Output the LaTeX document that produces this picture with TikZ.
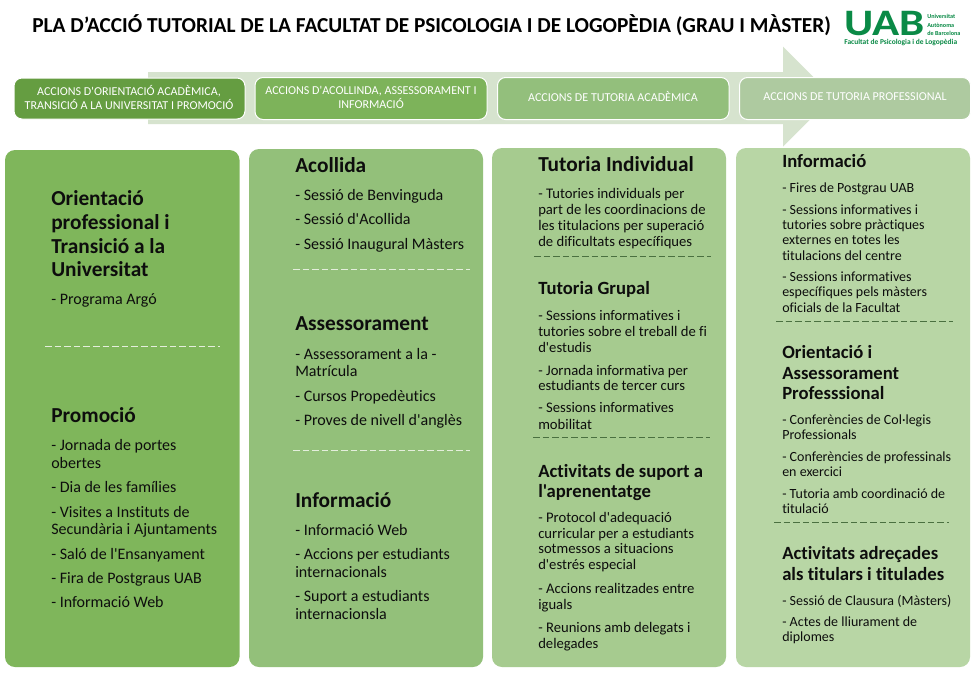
\documentclass[tikz,border=0pt]{standalone}
\usepackage{fontspec}
\setmainfont[Ligatures={TeXOff,NoCommon}]{Carlito}
\definecolor{bodytxt}{HTML}{0D0D0D}
\definecolor{arrowc}{HTML}{D6E3CE}
\definecolor{hA}{HTML}{659D41}
\definecolor{hB}{HTML}{7DB35A}
\definecolor{hC}{HTML}{93BF7C}
\definecolor{hD}{HTML}{AECAA0}
\definecolor{cA}{HTML}{7FB65B}
\definecolor{cB}{HTML}{93C07A}
\definecolor{cC}{HTML}{A6CB8F}
\definecolor{cD}{HTML}{B8D6A5}
\definecolor{uab}{HTML}{0A8A46}
\definecolor{sep}{HTML}{4A7040}
\definecolor{sepl}{HTML}{E4EEDC}
\tikzset{x=0.75pt,y=-0.75pt,
 colbox/.style={rounded corners=7.5pt},
 headbox/.style={rounded corners=6pt,draw=white,line width=0.75pt},
 headtxt/.style={text=white,font=\fontsize{9.05}{9.9}\selectfont,align=center},
 sepline/.style={draw=sep,line width=0.5pt,dash pattern=on 5pt off 2.2pt},
 seplight/.style={draw=sepl,line width=0.5pt,dash pattern=on 5pt off 2.2pt},
 tx/.style={anchor=base west,inner sep=0,text=bodytxt,font=\fontsize{10.5}{12}\selectfont},
 txb/.style={anchor=base west,inner sep=0,yshift=-0.6pt,text=bodytxt,font=\fontsize{12}{14}\selectfont},
 txc/.style={anchor=base west,inner sep=0,text=bodytxt,font=\fontsize{11}{13}\selectfont},
 hd/.style={anchor=base west,inner sep=0,text=bodytxt,font=\fontsize{14}{16}\selectfont\bfseries},
 hdb/.style={anchor=base west,inner sep=0,yshift=-0.6pt,text=bodytxt,font=\fontsize{16}{18}\selectfont\bfseries},
 logosmall/.style={anchor=base west,inner sep=0,text=uab,font=\fontsize{4.6}{5}\selectfont\bfseries}}
\newcommand{\tl}[3]{\node[tx] at (#1,#2) {#3};}
\newcommand{\tb}[3]{\node[txb] at (#1,#2) {#3};}
\newcommand{\tc}[3]{\node[txc] at (#1,#2) {#3};}
\newcommand{\hl}[3]{\node[hd] at (#1,#2) {#3};}
\newcommand{\hb}[3]{\node[hdb] at (#1,#2) {#3};}
\begin{document}
\begin{tikzpicture}
\useasboundingbox (0,0) rectangle (978,678);
\fill[white] (0,0) rectangle (978,678);
\node[anchor=base west,inner sep=0,text=black,font=\fontsize{16}{18}\selectfont\bfseries] (title) at (32,32) {PLA D’ACCIÓ TUTORIAL DE LA FACULTAT DE PSICOLOGIA I DE LOGOPÈDIA (GRAU I MÀSTER)};
% logo
\node[anchor=base west,inner sep=0,text=uab,font=\fontsize{28}{28}\selectfont\bfseries] (logo) at (844,36) {\scalebox{1.2}[1]{UAB}};
\node[logosmall] (logoA) at (927,18) {Universitat};
\node[logosmall] (logoB) at (927,27) {Autònoma};
\node[logosmall] (logoC) at (927,35) {de Barcelona};
\node[anchor=base west,inner sep=0,text=uab,font=\fontsize{5.6}{6}\selectfont\bfseries] (logoD) at (844,44.5) {Facultat de Psicologia i de Logopèdia};
% arrow
\fill[arrowc] (148,72) -- (783,72) -- (783,46.7) -- (833,96.7) -- (783,146.7) -- (783,124) -- (148,124) -- cycle;
% headers
\fill[hA,headbox] (14,78) rectangle (245,119);
\fill[hB,headbox] (255,77.5) rectangle (487,119.5);
\fill[hC,headbox] (497.5,77.5) rectangle (729,119.5);
\fill[hD,headbox] (739.5,77.5) rectangle (970.5,119.5);
\node[headtxt] (h1) at (129,97.5) {ACCIONS D'ORIENTACIÓ ACADÈMICA,\\TRANSICIÓ A LA UNIVERSITAT I PROMOCIÓ};
\node[headtxt] (h2) at (371,97.5) {ACCIONS D'ACOLLINDA, ASSESSORAMENT I\\INFORMACIÓ};
\node[headtxt] (h3) at (613,97) {ACCIONS DE TUTORIA ACADÈMICA};
\node[headtxt] (h4) at (855,97) {ACCIONS DE TUTORIA PROFESSIONAL};
% columns
\fill[cA,colbox] (5,150) rectangle (239.5,667);
\fill[cB,colbox] (249,149) rectangle (483,667);
\fill[cC,colbox] (492,148) rectangle (726,667);
\fill[cD,colbox] (736,148) rectangle (970,667);
% col 1
\hb{51}{204.5}{Orientació}
\hb{51}{228.5}{professional i}
\hb{51}{252.5}{Transició a la}
\hb{51}{275.5}{Universitat}
\tb{51}{304}{- Programa Argó}
\draw[seplight] (45,346.5) -- (220,346.5);
\hb{51}{422}{Promoció}
\tb{51}{450}{- Jornada de portes}
\tb{51}{468}{obertes}
\tb{51}{492}{- Dia de les famílies}
\tb{51}{517}{- Visites a Instituts de}
\tb{51}{534}{Secundària i Ajuntaments}
\tb{51}{559}{- Saló de l'Ensanyament}
\tb{51}{583}{- Fira de Postgraus UAB}
\tb{51}{607}{- Informació Web}
% col 2
\hb{295}{172}{Acollida}
\tb{295}{200}{- Sessió de Benvinguda}
\tb{295}{224}{- Sessió d'Acollida}
\tb{295}{249}{- Sessió Inaugural Màsters}
\draw[seplight] (293,269.5) -- (470,269.5);
\hb{295}{330}{Assessorament}
\tb{295}{359}{- Assessorament a la -}
\tb{295}{376}{Matrícula}
\tb{295}{401}{- Cursos Propedèutics}
\tb{295}{425}{- Proves de nivell d'anglès}
\draw[seplight] (293,450.5) -- (470,450.5);
\hb{295}{507}{Informació}
\tb{295}{535}{- Informació Web}
\tb{295}{559}{- Accions per estudiants}
\tb{295}{577}{internacionals}
\tb{295}{601}{- Suport a estudiants}
\tb{295}{619}{internacionsla}
% col 3
\hb{538}{171}{Tutoria Individual}
\tc{538}{198}{- Tutories individuals per}
\tc{538}{214}{part de les coordinacions de}
\tc{538}{230}{les titulacions per superació}
\tc{538}{246}{de dificultats específiques}
\draw[sepline] (534,256.5) -- (711,256.5);
\hl{538}{294}{Tutoria Grupal}
\tc{538}{320}{- Sessions informatives i}
\tc{538}{336}{tutories sobre el treball de fi}
\tc{538}{352}{d'estudis}
\tc{538}{375}{- Jornada informativa per}
\tc{538}{390}{estudiants de tercer curs}
\tc{538}{412}{- Sessions informatives}
\tc{538}{429}{mobilitat}
\draw[sepline] (533,437.5) -- (710,437.5);
\hl{538}{477}{Activitats de suport a}
\hl{538}{497}{l'aprenentatge}
\tc{538}{522}{- Protocol d'adequació}
\tc{538}{538}{curricular per a estudiants}
\tc{538}{553}{sotmessos a situacions}
\tc{538}{569}{d'estrés especial}
\tc{538}{593}{- Accions realitzades entre}
\tc{538}{609}{iguals}
\tc{538}{632}{- Reunions amb delegats i}
\tc{538}{648}{delegades}
% col 4
\hl{782}{167}{Informació}
\tl{782}{192}{- Fires de Postgrau UAB}
\tl{782}{214}{- Sessions informatives i}
\tl{782}{229}{tutories sobre pràctiques}
\tl{782}{244}{externes en totes les}
\tl{782}{260}{titulacions del centre}
\tl{782}{281}{- Sessions informatives}
\tl{782}{296}{específiques pels màsters}
\tl{782}{312}{oficials de la Facultat}
\draw[sepline] (776,321.5) -- (953,321.5);
\hl{782}{358}{Orientació i}
\hl{782}{379}{Assessorament}
\hl{782}{399}{Professsional}
\tl{782}{424}{- Conferències de Col·legis}
\tl{782}{439}{Professionals}
\tl{782}{461}{- Conferències de professinals}
\tl{782}{476}{en exercici}
\tl{782}{498}{- Tutoria amb coordinació de}
\tl{782}{513}{titulació}
\draw[sepline] (774,522.5) -- (949,522.5);
\hl{782}{559}{Activitats adreçades}
\hl{782}{580}{als titulars i titulades}
\tl{782}{605}{- Sessió de Clausura (Màsters)}
\tl{782}{626}{- Actes de lliurament de}
\tl{782}{641}{diplomes}
\end{tikzpicture}
\end{document}
